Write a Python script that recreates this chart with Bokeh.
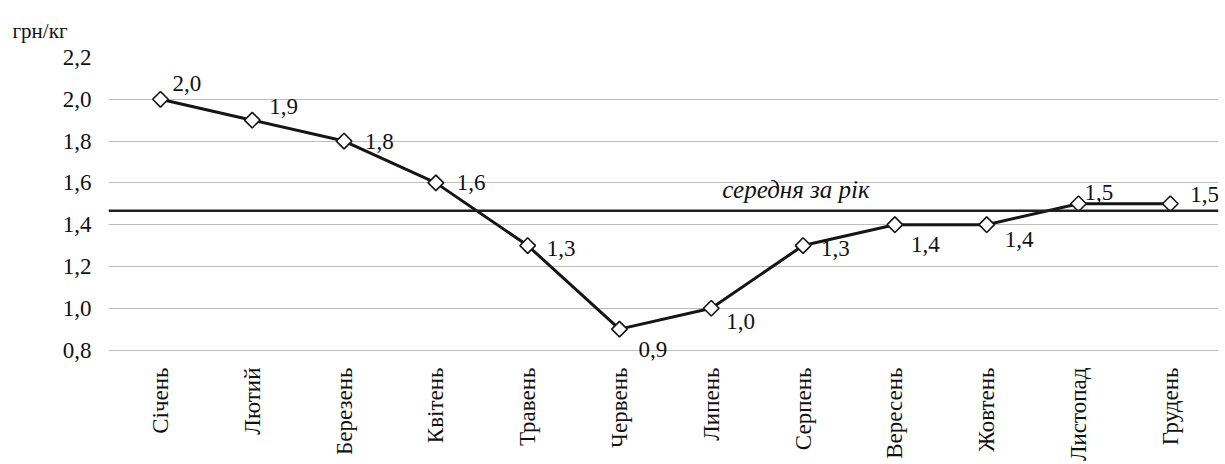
from bokeh.plotting import figure
from bokeh.models import (ColumnDataSource, Range1d, FixedTicker, CustomJSTickFormatter,
                          Span)
from bokeh.core.properties import value
from bokeh.embed import file_html
from bokeh.resources import INLINE
import math

# Monthly average price, UAH per kg
months = ["Січень", "Лютий", "Березень", "Квітень", "Травень", "Червень",
          "Липень", "Серпень", "Вересень", "Жовтень", "Листопад", "Грудень"]
prices = [2.0, 1.9, 1.8, 1.6, 1.3, 0.9, 1.0, 1.3, 1.4, 1.4, 1.5, 1.5]
y_ticks = [0.8, 1.0, 1.2, 1.4, 1.6, 1.8, 2.0, 2.2]
unit_label = "грн/кг"
mean_label = "середня за рік"

# pixel nudges for the value labels (right, down)
label_dx = [12, 17, 21, 21, 19, 19, 15, 18, 16, 18, 6, 20]
label_dy = [-16, -14, 0, 0, 3, 20, 13, 3, 20, 15, -11, -9]

FONT = "serif"
INK = "#111111"

xs = list(range(len(months)))
yearly_mean = sum(prices) / len(prices)

src = ColumnDataSource(dict(
    x=xs, y=prices,
    txt=[f"{v:.1f}".replace(".", ",") for v in prices],
    dx=label_dx, dy=label_dy,
))

p = figure(width=1225, height=464, output_backend="svg", toolbar_location=None,
           x_range=Range1d(-0.566, 11.525), y_range=Range1d(0.75, 2.2),
           min_border_left=108, min_border_right=7, min_border_top=57,
           min_border_bottom=101)
p.outline_line_color = None
p.background_fill_color = "white"
p.border_fill_color = "white"

# unit caption, top-left
p.title.text = unit_label
p.title.align = "left"
p.title.offset = -96
p.title.standoff = 30
p.title.text_font = FONT
p.title.text_font_style = "normal"
p.title.text_font_size = "21px"
p.title.text_color = INK

# grid
p.xgrid.grid_line_color = None
p.ygrid.grid_line_color = "#bdbdbd"
p.ygrid.grid_line_width = 1

# y axis
p.yaxis.ticker = FixedTicker(ticks=y_ticks)
p.yaxis.formatter = CustomJSTickFormatter(code="return tick.toFixed(1).replace('.', ',');")
p.yaxis.axis_line_color = None
p.yaxis.major_tick_line_color = None
p.yaxis.minor_tick_line_color = None
p.yaxis.major_label_standoff = 11
p.yaxis.major_label_text_font = FONT
p.yaxis.major_label_text_font_size = "23px"
p.yaxis.major_label_text_color = INK

# x axis with month names
p.xaxis.ticker = FixedTicker(ticks=xs)
p.xaxis.formatter = CustomJSTickFormatter(args=dict(labels=months),
                                          code="return labels[Math.round(tick)] || '';")
p.xaxis.axis_line_color = None
p.xaxis.major_tick_line_color = None
p.xaxis.minor_tick_line_color = None
p.xaxis.major_label_orientation = math.pi / 2
p.xaxis.major_label_standoff = 1
p.xaxis.major_label_text_font = FONT
p.xaxis.major_label_text_font_size = "23px"
p.xaxis.major_label_text_color = INK

# yearly mean line and caption
p.add_layout(Span(location=yearly_mean, dimension="width", line_color="#1f1f1f", line_width=2.5))
p.text(x=[6.12], y=[yearly_mean], text=[mean_label], y_offset=-8,
       text_font=value(FONT), text_font_style="italic", text_font_size="25px",
       text_color=INK, text_align="left", text_baseline="bottom")

# price series
p.line("x", "y", source=src, line_color="#151515", line_width=3)
p.scatter("x", "y", source=src, marker="square", angle=math.pi / 4, size=11,
          fill_color="white", line_color="#151515", line_width=1.6)
p.text("x", "y", text="txt", source=src, x_offset="dx", y_offset="dy",
       text_font=value(FONT), text_font_size="23px", text_color=INK,
       text_align="left", text_baseline="middle")

open("out.html", "w").write(file_html(p, INLINE))
